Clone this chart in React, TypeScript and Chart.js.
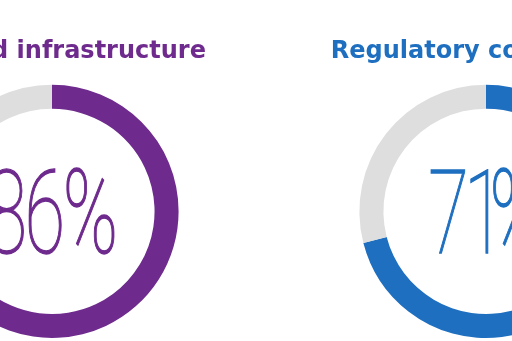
import React, { useEffect, useRef } from "react";
import { Chart, registerables } from "chart.js";

Chart.register(...registerables);

const titles = ["Secured infrastructure", "Regulatory compliance"];
const values = [86, 71];
const colors = ["#6E2A8D", "#1E6FC0"];
const trackColor = "#DEDEDE";
const canvasLefts = [-128, 306];

const CW = 360;
const CH = 341;

const SX = 0.64;
const GAP = 5;

const centerText = {
  id: "centerText",
  afterDraw(chart: any) {
    const meta = chart.getDatasetMeta(0);
    const arc = meta.data[0];
    if (!arc) return;
    const opts = chart.options.plugins.centerText || {};
    const text: string = opts.text;
    const ctx = chart.ctx;
    ctx.save();
    ctx.translate(arc.x, arc.y);
    ctx.scale(SX, 1);
    ctx.font = "100 116px Roboto";
    ctx.fillStyle = opts.color;
    ctx.strokeStyle = opts.color;
    ctx.lineWidth = 1.3;
    ctx.textAlign = "left";
    ctx.textBaseline = "alphabetic";
    const chars = text.split("");
    const ms = chars.map((c) => ctx.measureText(c));
    const gap = GAP / SX;
    const inks = ms.map((m: any) => m.actualBoundingBoxLeft + m.actualBoundingBoxRight);
    const total = inks.reduce((a: number, b: number) => a + b, 0) + gap * (chars.length - 1);
    let x = -total / 2;
    chars.forEach((c, i) => {
      const m: any = ms[i];
      const dx = x + m.actualBoundingBoxLeft;
      ctx.fillText(c, dx, 42);
      ctx.strokeText(c, dx, 42);
      x += inks[i] + gap;
    });
    ctx.restore();
  },
};

function Donut({ index }: { index: number }) {
  const ref = useRef<HTMLCanvasElement | null>(null);
  useEffect(() => {
    if (!ref.current) return;
    const v = values[index];
    const chart = new Chart(ref.current, {
      type: "doughnut",
      data: {
        labels: ["Share", "Rest"],
        datasets: [
          {
            data: [v, 100 - v],
            backgroundColor: [colors[index], trackColor],
            borderWidth: 0,
          },
        ],
      },
      options: {
        animation: false,
        responsive: false,
        cutout: "81%",
        layout: { padding: { bottom: 3 } },
        plugins: {
          legend: { display: false },
          tooltip: { enabled: false },
          title: {
            display: true,
            text: titles[index],
            color: colors[index],
            font: { family: "DejaVu Sans", weight: "bold", size: 24 },
            padding: { top: 37, bottom: 19 },
          },
          centerText: { text: v + "%", color: colors[index] },
        } as any,
      },
      plugins: [centerText],
    });
    return () => chart.destroy();
  }, [index]);
  return (
    <canvas
      ref={ref}
      width={CW}
      height={CH}
      style={{ position: "absolute", left: canvasLefts[index], top: 0, width: CW, height: CH }}
    />
  );
}

export default function App() {
  return (
    <div
      style={{
        position: "fixed",
        left: 0,
        top: 0,
        width: 512,
        height: 341,
        overflow: "hidden",
        background: "#ffffff",
      }}
    >
      <Donut index={0} />
      <Donut index={1} />
    </div>
  );
}
